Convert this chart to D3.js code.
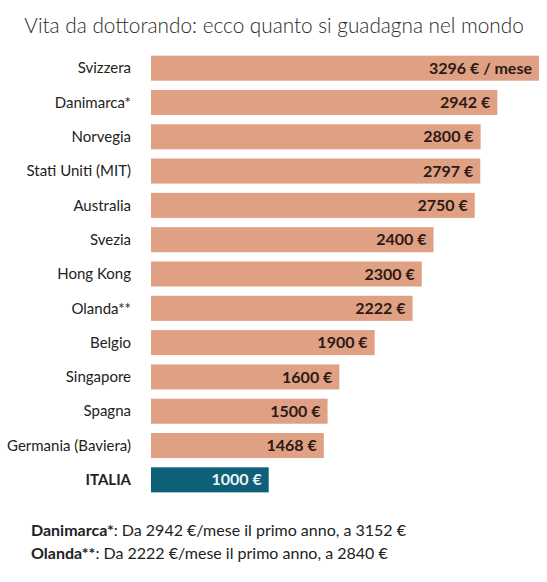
<!DOCTYPE html>
<html lang="it">
<head>
    <meta charset="UTF-8">
    <title>Vita da dottorando</title>
    <style>
        body {
            margin: 0;
            background-color: #ffffff;
        }
        svg text {
            font-family: Lato, "Open Sans", sans-serif;
        }
    </style>
    <script src="https://d3js.org/d3.v7.min.js"></script>
</head>
<body>
    <div id="chart"></div>
    <script>
        // Stipendio mensile dottorandi (euro)
        const countries = ["Svizzera", "Danimarca*", "Norvegia", "Stati Uniti (MIT)", "Australia", "Svezia",
            "Hong Kong", "Olanda**", "Belgio", "Singapore", "Spagna", "Germania (Baviera)", "ITALIA"];
        const salaries = [3296, 2942, 2800, 2797, 2750, 2400, 2300, 2222, 1900, 1600, 1500, 1468, 1000];
        const valueLabels = ["3296 € / mese", "2942 €", "2800 €", "2797 €", "2750 €", "2400 €",
            "2300 €", "2222 €", "1900 €", "1600 €", "1500 €", "1468 €", "1000 €"];
        const notes = [
            ["Danimarca*", ": Da 2942 €/mese il primo anno, a 3152 €"],
            ["Olanda**", ": Da 2222 €/mese il primo anno, a 2840 €"]
        ];

        const width = 547;
        const height = 582;
        const data = countries.map((c, i) => ({ name: c, value: salaries[i], label: valueLabels[i] }));

        const svg = d3.select('#chart').append('svg')
            .attr('width', width)
            .attr('height', height);

        const x = d3.scaleLinear().domain([0, 3296]).range([151, 539]);
        const y = d3.scaleBand().domain(countries).range([51, 497]).paddingInner(0.27).paddingOuter(0.135);

        // title - shrink font until it fits the reference width
        const title = svg.append('text')
            .attr('x', 274)
            .attr('y', 33)
            .attr('text-anchor', 'middle')
            .attr('font-weight', 300)
            .attr('fill', '#2a2a2a')
            .text('Vita da dottorando: ecco quanto si guadagna nel mondo');
        let fs = 24;
        title.attr('font-size', fs);
        while (title.node().getComputedTextLength() > 504 && fs > 10) {
            fs -= 0.25;
            title.attr('font-size', fs);
        }

        const rows = svg.append('g').selectAll('g')
            .data(data)
            .enter().append('g');

        rows.append('rect')
            .attr('x', x(0))
            .attr('y', d => y(d.name))
            .attr('width', d => x(d.value) - x(0))
            .attr('height', y.bandwidth())
            .attr('fill', d => d.name === 'ITALIA' ? '#0f6079' : '#e0a083');

        rows.append('text')
            .attr('x', 131)
            .attr('y', d => y(d.name) + y.bandwidth() / 2)
            .attr('dy', '0.35em')
            .attr('text-anchor', 'end')
            .attr('font-size', 15)
            .attr('font-weight', d => d.name === 'ITALIA' ? 700 : 400)
            .attr('fill', '#222')
            .text(d => d.name);

        rows.append('text')
            .attr('x', d => x(d.value) - 7)
            .attr('y', d => y(d.name) + y.bandwidth() / 2)
            .attr('dy', '0.35em')
            .attr('text-anchor', 'end')
            .attr('font-size', 16)
            .attr('font-weight', 700)
            .attr('fill', d => d.name === 'ITALIA' ? '#eef4f6' : '#2b1a14')
            .text(d => d.label);

        // footnotes
        const foot = svg.append('g').selectAll('text')
            .data(notes)
            .enter().append('text')
            .attr('x', 31)
            .attr('y', (d, i) => 536 + i * 23)
            .attr('font-size', 16)
            .attr('fill', '#222');
        foot.append('tspan').attr('font-weight', 700).text(d => d[0]);
        foot.append('tspan').attr('font-weight', 400).text(d => d[1]);
    </script>
</body>
</html>
